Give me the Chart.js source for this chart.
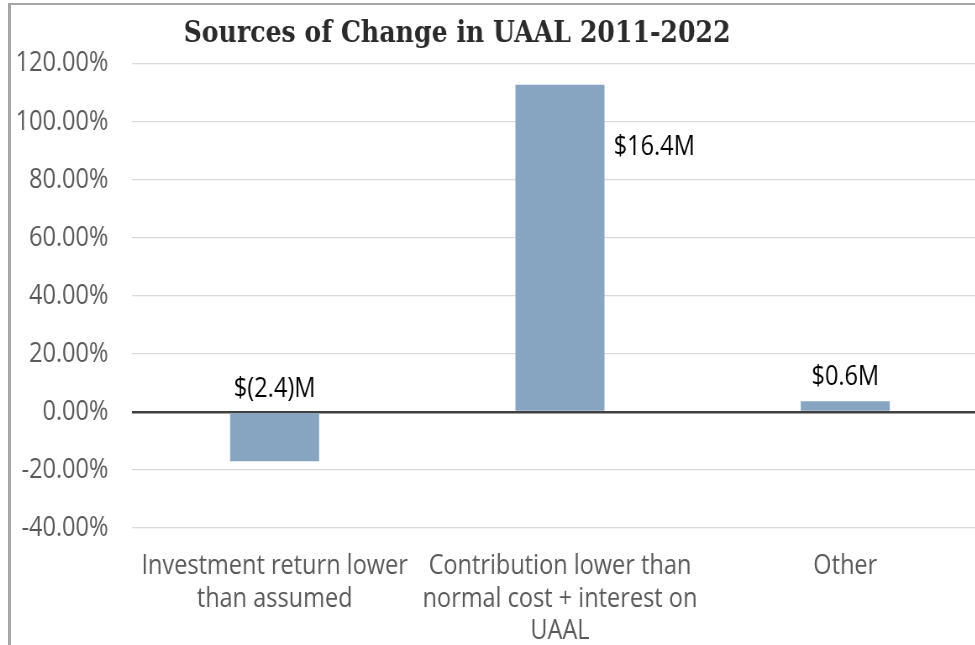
<!DOCTYPE html>
<html>
<head>
<meta charset="utf-8">
<script src="https://cdn.jsdelivr.net/npm/chart.js@4"></script>
<style>
  html, body { margin: 0; padding: 0; overflow: hidden; background: #fff; }
  #frame {
    position: absolute; left: 8px; top: 3px; width: 2000px; height: 2000px;
    border-left: 3px solid #a6a6a6; border-top: 2px solid #a6a6a6;
  }
  /* the source picture is squeezed sideways, so the whole chart is too */
  #wrap {
    position: absolute; left: 11px; top: 5px; width: 1190px; height: 640px;
    transform: scaleX(0.84); transform-origin: 0 0;
  }
</style>
</head>
<body>
<div id="frame"></div>
<div id="wrap"><canvas id="uaalChart"></canvas></div>
<script>
const categories = [
  ["Investment return lower", "than assumed"],
  ["Contribution lower than", "normal cost + interest on", "UAAL"],
  "Other",
];
const changeShare = [-17.0, 112.7, 3.7];
const dollarLabels = ["$(2.4)M", "$16.4M", "$0.6M"];
const chartTitle = "Sources of Change in UAAL 2011-2022";

const FONT = '"Open Sans", sans-serif';

const titlePlugin = {
  id: "chartTitle",
  afterDraw(chart, args, opts) {
    const ctx = chart.ctx;
    ctx.save();
    ctx.font = 'bold 30px "DejaVu Serif", serif';
    ctx.fillStyle = "#2b2b2b";
    ctx.textAlign = "center";
    ctx.textBaseline = "middle";
    ctx.fillText(opts.text, opts.x, opts.y);
    ctx.restore();
  },
};

const barLabelPlugin = {
  id: "barLabels",
  afterDatasetsDraw(chart, args, opts) {
    const ctx = chart.ctx;
    const meta = chart.getDatasetMeta(0);
    ctx.save();
    ctx.font = "28px " + FONT;
    ctx.fillStyle = "#000000";
    ctx.textBaseline = "middle";
    meta.data.forEach((bar, i) => {
      const top = Math.min(bar.y, bar.base);
      if (opts.placement[i] === "right") {
        ctx.textAlign = "left";
        ctx.fillText(dollarLabels[i], bar.x + bar.width / 2 + 11, top + 62);
      } else {
        ctx.textAlign = "center";
        ctx.fillText(dollarLabels[i], bar.x, top - 24);
      }
    });
    ctx.restore();
  },
};

new Chart(document.getElementById("uaalChart"), {
  type: "bar",
  plugins: [titlePlugin, barLabelPlugin],
  data: {
    labels: categories,
    datasets: [
      {
        data: changeShare,
        backgroundColor: "#87a4c1",
        barPercentage: 0.312,
        categoryPercentage: 1,
      },
    ],
  },
  options: {
    responsive: true,
    maintainAspectRatio: false,
    animation: false,
    layout: { padding: { top: 58.5, right: 27, bottom: 0, left: 0 } },
    plugins: {
      legend: { display: false },
      tooltip: { enabled: false },
      chartTitle: { text: chartTitle, x: 531, y: 29 },
      barLabels: { placement: ["above", "right", "above"] },
    },
    scales: {
      x: {
        grid: { display: false, drawTicks: false },
        border: { display: false },
        ticks: {
          color: "#595959",
          font: { family: FONT, size: 28, lineHeight: 1.16 },
          padding: 22,
          maxRotation: 0,
          autoSkip: false,
        },
        afterFit: (scale) => { scale.height = 117; },
      },
      y: {
        min: -40,
        max: 120,
        grid: {
          drawTicks: false,
          color: (c) => (c.tick && c.tick.value === 0 ? "#404040" : "#d9d9d9"),
          lineWidth: (c) => (c.tick && c.tick.value === 0 ? 2.5 : 1.25),
        },
        border: { display: false },
        ticks: {
          stepSize: 20,
          color: "#595959",
          font: { family: FONT, size: 28 },
          padding: 28,
          callback: (v) => v.toFixed(2) + "%",
        },
        afterFit: (scale) => { scale.width = 144; },
      },
    },
  },
});
</script>
</body>
</html>
